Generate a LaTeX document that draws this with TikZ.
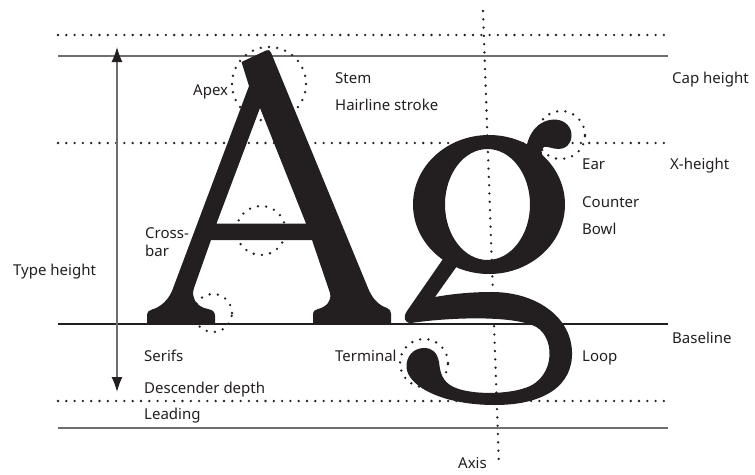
\documentclass[tikz,border=0pt]{standalone}
\usepackage{fontspec}
\newfontfamily\labelfont{Noto Sans}
\usetikzlibrary{positioning, arrows.meta, calc}

\definecolor{ink}{HTML}{231F20}
\definecolor{rulegrey}{HTML}{6D6E71}

\tikzset{
    guide/.style={line width=1.4pt, rulegrey},
    baserule/.style={line width=1.4pt, ink},
    dotline/.style={line width=2.6pt, ink, line cap=round,
        dash pattern=on 0pt off 8.3pt},
    glyph/.style={fill=ink, draw=none},
    tag/.style={anchor=base west, inner sep=0pt, text=ink,
        font=\labelfont\fontsize{15}{18}\selectfont},
    tip/.style={Latex[length=15pt, width=11pt, color=ink]}
}

\begin{document}
\begin{tikzpicture}[x=1pt, y=-1pt]
\useasboundingbox (0,0) rectangle (755,474);

% guide lines
\draw[dotline] (58,35) -- (670,35);
\draw[guide] (58,56) -- (668,56);
\draw[dotline] (58,143) -- (672,143);
\draw[baserule] (58,324) -- (668,324);
\draw[dotline] (58,401) -- (670,401);
\draw[guide] (58,428) -- (668,428);
\draw[dotline] (483,11) -- (499,467);

% dotted rings behind the letters
\draw[dotline] (269,84) circle [radius=37pt];
\draw[dotline] (261,230.5) circle [radius=24.5pt];
\draw[dotline] (213,313) circle [radius=19pt];
\draw[dotline] (561,135) circle [radius=24pt];
\draw[dotline] (424,363) circle [radius=24pt];

\coordinate (tophead) at (117,47);
\coordinate (bothead) at (117,392);
\draw[guide, {Latex[length=15pt, width=11pt, color=ink]}-{Latex[length=15pt, width=11pt, color=ink]}]
    (tophead) -- (bothead);

% letter A
\fill[glyph, even odd rule]
    (241.5,62) -- (266,50.5) .. controls (268.5,49.5) and (270,50) .. (271,52.5)
    -- (368,288) .. controls (372,298) and (378,305) .. (387,308)
    .. controls (390,309) and (391,311) .. (391,314) -- (391,324)
    -- (313,324) -- (313,315)
    .. controls (313,311) and (315,309.5) .. (318,309)
    .. controls (326,307) and (332,301) .. (330,293)
    -- (312,240) -- (211,240) -- (194,288)
    .. controls (191,297) and (196,307) .. (208,309)
    .. controls (213,310) and (215,312) .. (215,316) -- (215,324)
    -- (147,324) -- (147,316)
    .. controls (147,312) and (149,310) .. (152,309.5)
    .. controls (161,307) and (168,300) .. (172,291)
    -- (249,86) -- cycle
    (260,108) -- (306,223.5) -- (216.5,223.5) -- cycle;

% letter g
\fill[glyph, even odd rule]
    (489,204.5) ellipse [x radius=76pt, y radius=69.5pt]
    (487.5,204.5) ellipse [x radius=42.5pt, y radius=55.5pt];
\fill[glyph]
    (526,150) .. controls (528,132) and (540,119) .. (555,119.5)
    .. controls (566,120) and (572,128) .. (571.5,136)
    .. controls (571,144) and (566,149) .. (559,149)
    .. controls (552,149) and (548,146) .. (544,147)
    .. controls (540,149) and (541,156) .. (548,166)
    -- (530,170) -- cycle;
\fill[glyph]
    (443,259) -- (407,311) .. controls (403,317) and (404,323) .. (411,323)
    .. controls (445,318) and (505,315) .. (532,325)
    .. controls (556,333) and (557,378) .. (525,388)
    .. controls (505,395) and (465,395) .. (450,385)
    .. controls (441,379) and (440,370) .. (439,362)
    .. controls (437,352) and (432,348) .. (424,348)
    .. controls (413,348) and (406,357) .. (406.5,367)
    .. controls (407,385) and (440,405) .. (495,405)
    .. controls (545,405) and (573,385) .. (572,352)
    .. controls (571,316) and (535,292) .. (492,292)
    .. controls (470,292) and (452,294) .. (435,297)
    -- (457,266) -- cycle;

\node[tag] (apex) at (193,95) {Apex};
\node[tag] (stem) at (335,83) {Stem};
\node[tag] (hairline) at (335,110) {Hairline stroke};
\node[tag] (capheight) at (672,83) {Cap height};
\node[tag] (ear) at (582,169) {Ear};
\node[tag] (xheight) at (670,169) {X-height};
\node[tag] (counter) at (582,207) {Counter};
\node[tag] (bowl) at (582,234) {Bowl};
\node[tag] (crossbar) at (145,238) {Cross-};
\node[tag] (crossbarlow) at (145,256) {bar};
\node[tag] (typeheight) at (13,275) {Type height};
\node[tag] (serifs) at (144,361) {Serifs};
\node[tag] (terminal) at (335,361) {Terminal};
\node[tag] (loop) at (582,361) {Loop};
\node[tag] (baseline) at (672,343) {Baseline};
\node[tag] (descender) at (144,393) {Descender depth};
\node[tag] (leading) at (144,419) {Leading};
\node[tag] (axis) at (458,468) {Axis};

\end{tikzpicture}
\end{document}
